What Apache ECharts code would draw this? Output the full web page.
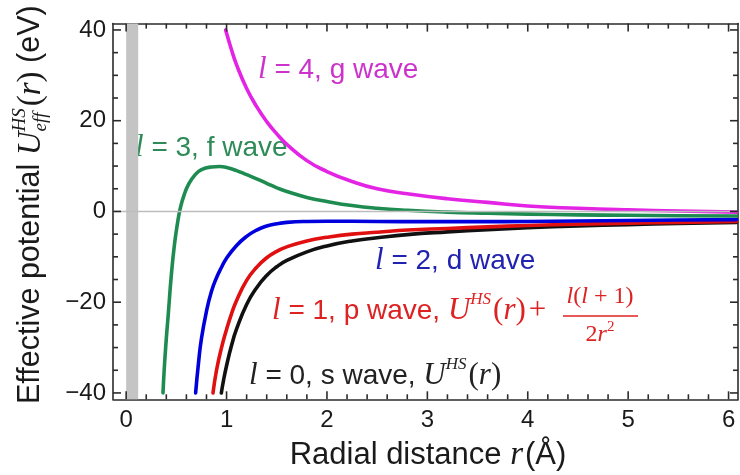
<!DOCTYPE html>
<html>
<head>
<meta charset="utf-8">
<script src="https://cdn.jsdelivr.net/npm/echarts@6/dist/echarts.min.js"></script>
<style>
  html, body { margin: 0; padding: 0; background: #ffffff; }
  #chart { width: 740px; height: 475px; }
</style>
</head>
<body>
<div id="chart"></div>
<script>
// Effective potentials (eV) versus radial distance r (Å) for l = 0 ... 4.
// l = 0, s wave: the bare potential U^HS(r)
const rS = [0.948, 0.97, 1.0, 1.05, 1.1, 1.2, 1.3, 1.4, 1.5, 1.6, 1.8, 2.0, 2.25, 2.5, 2.8, 3.2, 3.6, 4.0, 4.5, 5.0, 5.5, 6.08];
const uS = [-40, -37.2, -34.0, -29.5, -25.9, -20.5, -16.8, -14.1, -12.2, -10.8, -8.9, -7.6, -6.5, -5.8, -5.1, -4.5, -4.0, -3.6, -3.2, -2.9, -2.65, -2.4];
// l = 1, p wave
const rP = [0.865, 0.9, 0.95, 1.0, 1.05, 1.1, 1.2, 1.3, 1.4, 1.5, 1.6, 1.8, 2.0, 2.25, 2.5, 2.8, 3.2, 3.6, 4.0, 4.5, 5.0, 5.5, 6.08];
const uP = [-40, -35.0, -30.0, -26.0, -22.5, -19.6, -15.2, -12.3, -10.2, -8.8, -7.8, -6.5, -5.7, -5.0, -4.6, -4.1, -3.75, -3.4, -3.1, -2.8, -2.6, -2.4, -2.2];
// l = 2, d wave
const rD = [0.692, 0.72, 0.75, 0.8, 0.85, 0.9, 0.95, 1.0, 1.1, 1.2, 1.3, 1.4, 1.5, 1.6, 1.8, 2.0, 2.5, 3.0, 3.5, 4.0, 4.5, 5.0, 5.5, 6.08];
const uD = [-40, -33.5, -28.0, -22.0, -17.6, -14.6, -12.3, -10.3, -7.5, -5.5, -4.1, -3.2, -2.7, -2.4, -2.2, -2.15, -2.2, -2.25, -2.25, -2.2, -2.1, -2.0, -1.9, -1.8];
// l = 3, f wave (centrifugal barrier peak near r = 0.9)
const rF = [0.367, 0.38, 0.40, 0.42, 0.45, 0.48, 0.51, 0.54, 0.58, 0.62, 0.68, 0.75, 0.85, 0.93, 1.0, 1.1, 1.2, 1.3, 1.4, 1.5, 1.6, 1.8, 2.0, 2.25, 2.5, 2.8, 3.2, 3.6, 4.0, 4.5, 5.0, 5.5, 6.08];
const uF = [-40, -34.5, -28.0, -22.5, -14.0, -7.5, -2.8, 0.8, 3.8, 5.9, 7.9, 9.2, 9.8, 9.9, 9.7, 9.0, 8.1, 7.2, 6.2, 5.2, 4.4, 3.1, 2.2, 1.3, 0.7, 0.25, -0.15, -0.4, -0.6, -0.75, -0.85, -0.95, -1.0];
// l = 4, g wave
const rG = [0.991, 1.05, 1.1, 1.2, 1.3, 1.4, 1.5, 1.6, 1.8, 2.0, 2.25, 2.5, 2.8, 3.2, 3.6, 4.0, 4.5, 5.0, 5.5, 6.08];
const uG = [40, 35.6, 32.3, 27.1, 23.1, 19.8, 17.1, 14.8, 11.2, 8.8, 6.6, 5.0, 3.9, 2.8, 2.0, 1.2, 0.7, 0.35, 0.1, -0.15];

// Hard-sphere core region shaded near the origin
const coreBand = [0, 0.12];

// Frame extents and tick spacing
const rRange = [-0.131, 6.094];
const uRange = [-41.4, 41.4];
const rMajorStep = 1, rMinorStep = 0.2;
const uMajorStep = 20, uMinorStep = 5;

const SANS = "'Liberation Sans', Arial, Helvetica, sans-serif";
const SERIF = "'Liberation Serif', 'Times New Roman', serif";

const zip = (xs, ys) => xs.map((x, i) => [x, ys[i]]);

// --- text runs with mixed fonts (math symbols, super/subscripts) ---
const mctx = document.createElement('canvas').getContext('2d');
function fontStr(p) {
  return (p.it ? 'italic ' : '') + p.size + 'px ' + (p.serif ? SERIF : SANS);
}
function measure(p) { mctx.font = fontStr(p); return mctx.measureText(p.t).width; }
function textRuns(parts, x0, y0, color, align) {
  let x = 0; const items = [];
  parts.forEach(p => {
    items.push({ p, x: x + (p.dx || 0) });
    if (!p.stack) x += measure(p) + (p.gap || 0);
  });
  const start = align === 'center' ? x0 - x / 2 : x0;
  return items.map(it => ({
    type: 'text', silent: true,
    x: start + it.x, y: y0 + (it.p.dy || 0),
    style: {
      text: it.p.t, fill: it.p.c || color, font: fontStr(it.p),
      textAlign: 'left', textVerticalAlign: 'middle', align: 'left', verticalAlign: 'middle'
    }
  }));
}

const LS = 28;          // label font size
const MS = 31;          // math font size
const ell = (size) => ({ t: 'l', it: true, serif: true, size: size || MS });

const colS = '#111111', colP = '#e01010', colD = '#0000dc', colF = '#1e8c50', colG = '#e424e4';

const graphics = [];
// curve labels
graphics.push(...textRuns([ell(), { t: ' = 4, g wave', size: LS }], 258, 70, '#cc33cc'));
graphics.push(...textRuns([ell(), { t: ' = 3, f wave', size: LS }], 135, 148, '#2e8b57'));
graphics.push(...textRuns([ell(), { t: ' = 2, d wave', size: LS }], 375, 261, '#2222b0'));
graphics.push(...textRuns([
  ell(), { t: ' = 1, p wave, ', size: LS },
  { t: 'U', it: true, serif: true, size: MS },
  { t: 'HS', it: true, serif: true, size: 17, dy: -11, gap: 2 },
  { t: '(', serif: true, size: MS }, { t: 'r', it: true, serif: true, size: MS }, { t: ')', serif: true, size: MS },
  { t: '+', serif: true, size: MS, dx: 3 }
], 272, 311, '#dd2222'));
// fraction l(l+1) / 2r^2
graphics.push(...textRuns([
  ell(24), { t: '(', serif: true, size: 24 }, ell(24), { t: ' + 1)', serif: true, size: 24 }
], 600, 297, '#dd2222', 'center'));
graphics.push({
  type: 'line', silent: true,
  shape: { x1: 563, y1: 316, x2: 638, y2: 316 },
  style: { stroke: '#dd2222', lineWidth: 1.5 }
});
graphics.push(...textRuns([
  { t: '2', serif: true, size: 24 }, { t: 'r', it: true, serif: true, size: 24 },
  { t: '2', serif: true, size: 15, dy: -8 }
], 600, 335, '#dd2222', 'center'));
graphics.push(...textRuns([
  ell(), { t: ' = 0, s wave, ', size: LS },
  { t: 'U', it: true, serif: true, size: MS },
  { t: 'HS', it: true, serif: true, size: 17, dy: -11, gap: 2 },
  { t: '(', serif: true, size: MS }, { t: 'r', it: true, serif: true, size: MS }, { t: ')', serif: true, size: MS }
], 249, 376, '#222222'));

// axis titles
graphics.push(...textRuns([
  { t: 'Radial distance ', size: 31 },
  { t: 'r', it: true, serif: true, size: 33, gap: 2 },
  { t: '(Å)', size: 31 }
], 428, 455, '#1a1a1a', 'center'));
graphics.push({
  type: 'group', x: 31, y: 404, rotation: Math.PI / 2,
  children: textRuns([
    { t: 'Effective potential ', size: 30.5 },
    { t: 'U', it: true, serif: true, size: 33 },
    { t: 'eff', it: true, serif: true, size: 19, dy: 10, stack: true },
    { t: 'HS', it: true, serif: true, size: 19, dy: -11, gap: 2 },
    { t: '(', serif: true, size: 33 }, { t: 'r', it: true, serif: true, size: 33 }, { t: ')', serif: true, size: 33 },
    { t: ' (eV)', size: 30.5 }
  ], 0, 0, '#1a1a1a')
});

const frameColor = '#2b2b2b';
function axisBase(extra) {
  return Object.assign({
    type: 'value',
    axisLine: { show: true, onZero: false, lineStyle: { color: frameColor, width: 1.6 } },
    axisTick: { show: false },
    minorTick: { show: false },
    splitLine: { show: false },
    minorSplitLine: { show: false }
  }, extra);
}
const tickLabel = {
  fontSize: 24, color: '#1a1a1a', fontFamily: SANS,
  showMinLabel: false, showMaxLabel: false
};

const lineSeries = (name, xs, ys, color) => ({
  name, type: 'line', data: zip(xs, ys), showSymbol: false, symbol: 'none',
  smooth: 0.5, clip: true, z: 3,
  lineStyle: { color, width: 3.6, cap: 'round', join: 'round' }
});

const chart = echarts.init(document.getElementById('chart'), null, { renderer: 'canvas' });
chart.setOption({
  animation: false,
  backgroundColor: '#ffffff',
  grid: { left: 113, right: 2, top: 23.6, bottom: 75.7, containLabel: false },
  xAxis: [
    axisBase({ min: rRange[0], max: rRange[1], position: 'bottom', splitNumber: 6,
      axisLabel: Object.assign({ margin: 9 }, tickLabel) }),
    axisBase({ min: rRange[0], max: rRange[1], position: 'top', splitNumber: 6,
      axisLabel: { show: false } })
  ],
  yAxis: [
    axisBase({ min: uRange[0], max: uRange[1], position: 'left', splitNumber: 4,
      axisLabel: Object.assign({ margin: 7, formatter: v => String(v).replace('-', '\u2212') }, tickLabel) }),
    axisBase({ min: uRange[0], max: uRange[1], position: 'right', splitNumber: 4,
      axisLabel: { show: false } })
  ],
  series: [
    {
      name: 'frame', type: 'line', data: [], z: 1, silent: true,
      markArea: {
        silent: true, itemStyle: { color: '#c4c4c4' },
        data: [[{ xAxis: coreBand[0] }, { xAxis: coreBand[1] }]]
      },
      markLine: {
        silent: true, symbol: ['none', 'none'], label: { show: false },
        lineStyle: { color: '#bdbdbd', width: 1.3, type: 'solid' },
        data: [{ yAxis: 0 }]
      }
    },
    lineSeries('l = 0', rS, uS, colS),
    lineSeries('l = 1', rP, uP, colP),
    lineSeries('l = 2', rD, uD, colD),
    lineSeries('l = 3', rF, uF, colF),
    lineSeries('l = 4', rG, uG, colG)
  ],
  graphic: graphics
});

// --- inward frame ticks on all four sides, placed through the grid's own scales ---
function stepValues(lo, hi, step) {
  const out = [];
  for (let k = Math.ceil(lo / step - 1e-9); k * step <= hi + 1e-9; k++) out.push(+(k * step).toFixed(6));
  return out;
}
const isMajor = (v, step) => Math.abs(v / step - Math.round(v / step)) < 1e-6;
const px = (r, u) => chart.convertToPixel({ gridIndex: 0 }, [r, u]);
const tickStyle = { stroke: frameColor, lineWidth: 1.6 };
const tickItems = [];
stepValues(rRange[0], rRange[1], rMinorStep).forEach(v => {
  const len = isMajor(v, rMajorStep) ? 8 : 5;
  const b = px(v, uRange[0]), t = px(v, uRange[1]);
  tickItems.push({ type: 'line', silent: true, z: 10, shape: { x1: b[0], y1: b[1], x2: b[0], y2: b[1] - len }, style: tickStyle });
  tickItems.push({ type: 'line', silent: true, z: 10, shape: { x1: t[0], y1: t[1], x2: t[0], y2: t[1] + len }, style: tickStyle });
});
stepValues(uRange[0], uRange[1], uMinorStep).forEach(v => {
  const len = isMajor(v, uMajorStep) ? 8 : 5;
  const l = px(rRange[0], v), r = px(rRange[1], v);
  tickItems.push({ type: 'line', silent: true, z: 10, shape: { x1: l[0], y1: l[1], x2: l[0] + len, y2: l[1] }, style: tickStyle });
  tickItems.push({ type: 'line', silent: true, z: 10, shape: { x1: r[0], y1: r[1], x2: r[0] - len, y2: r[1] }, style: tickStyle });
});
chart.setOption({ graphic: graphics.concat(tickItems) });
</script>
</body>
</html>
